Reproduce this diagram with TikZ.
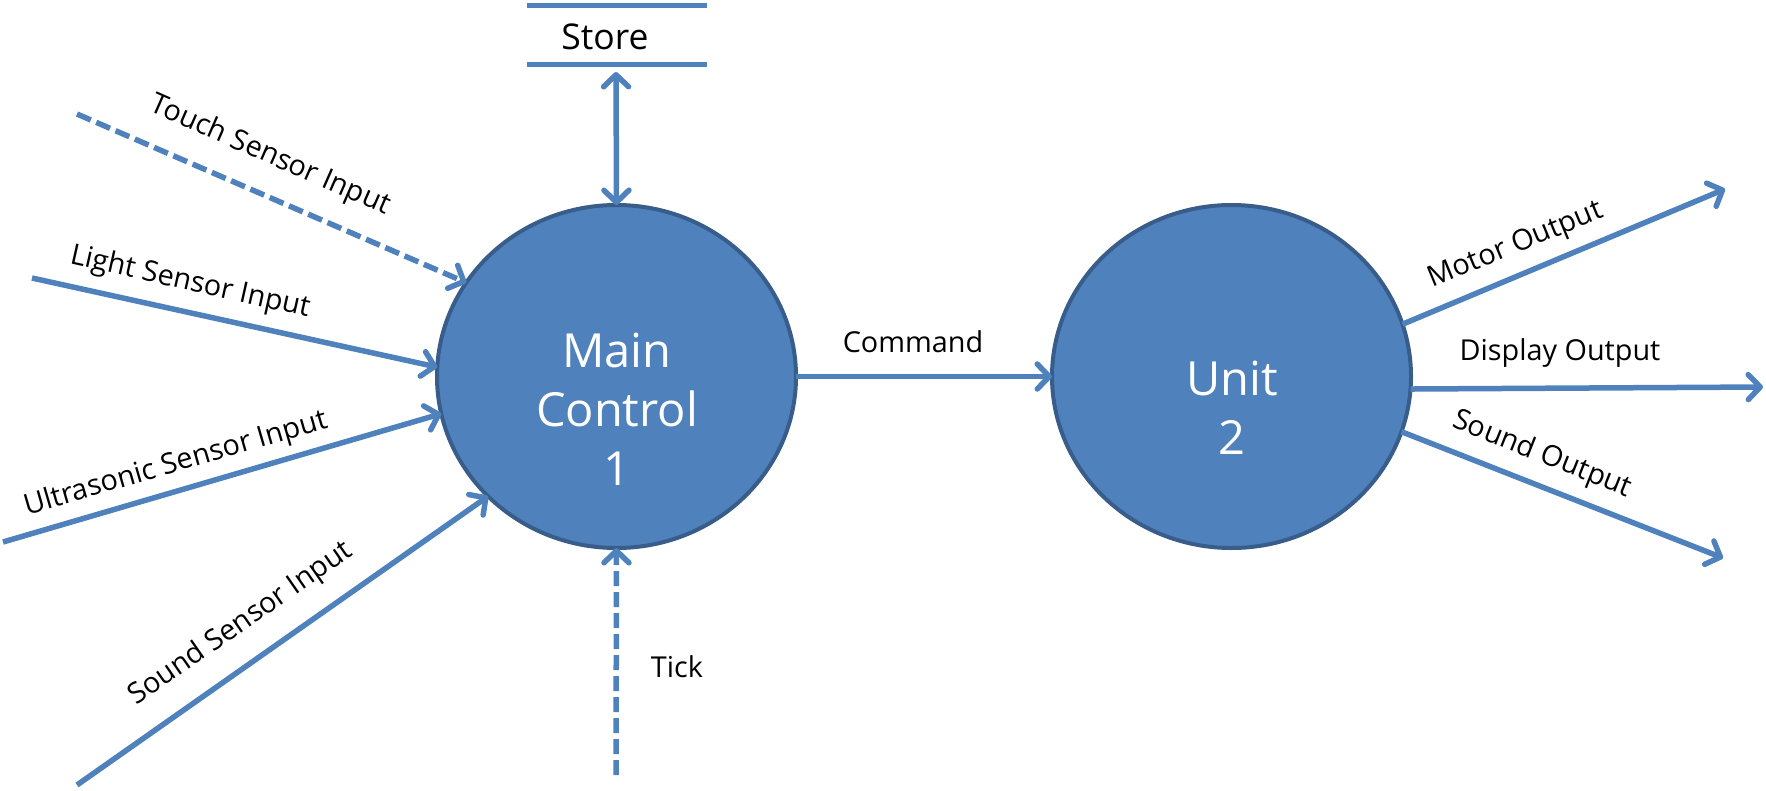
\documentclass[tikz,border=0pt]{standalone}
\usepackage{fontspec}
\setmainfont{Open Sans}
\usetikzlibrary{arrows.meta,shapes.geometric}
\definecolor{lineblue}{HTML}{4F81BD}
\definecolor{fillblue}{HTML}{4F81BD}
\definecolor{borderblue}{HTML}{385D8A}
\begin{document}
\begin{tikzpicture}[x=1pt,y=-1pt,
  proc/.style={ellipse, draw=borderblue, fill=fillblue, line width=4pt,
    minimum width=359pt, minimum height=343pt, inner sep=0pt, outer sep=0pt},
  barb/.tip={Straight Barb[length=12pt,width=25pt,round]},
  flow/.style={draw=lineblue, line width=5.5pt, -barb},
  dflow/.style={flow, dash pattern=on 15pt off 6pt},
  lbl/.style={font=\fontsize{28.8}{34}\selectfont, inner sep=0pt},
  ptext/.style={font=\fontsize{47}{59}\selectfont, text=white, align=center, inner sep=0pt},
  storeline/.style={draw=lineblue, line width=5pt}
]
\useasboundingbox (0,0) rectangle (1766,790);

% processes
\node[proc] (main) at (616.5,376.5) {};
\node[proc] (unit) at (1231.5,376.5) {};
\node[ptext] (maintext) at (617,409) {Main\\Control\\1};
\node[ptext] (unittext) at (1232,408) {Unit\\2};

% store
\node[font=\fontsize{35.5}{42}\selectfont, inner sep=0pt] (store) at (605,37) {Store};
\coordinate (stl) at (527,5);
\coordinate (str) at (707,5);
\coordinate (sbl) at (527,64);
\coordinate (sbr) at (707,64);
\draw[storeline] (stl) -- (str);
\draw[storeline] (sbl) -- (sbr);
\coordinate (storeport) at (616,72);
\draw[flow, barb-barb] (storeport) -- (main.north);

% free ends
\coordinate (touchS) at (77,114);
\coordinate (lightS) at (32,278);
\coordinate (ultraS) at (3,542);
\coordinate (soundS) at (77,785);
\coordinate (tickS) at (616,775);
\coordinate (motorE) at (1725,189);
\coordinate (dispE) at (1763,387);
\coordinate (soundE) at (1723,558);

% inputs
\draw[dflow] (touchS) -- (main.148.3);
\draw[flow] (lightS) -- (main.177.3);
\draw[flow] (ultraS) -- (main.192.3);
\draw[flow] (soundS) -- (main.223.4);
\draw[dflow] (tickS) -- (main.south);

% command
\draw[flow] (main.east) -- (unit.west);

% outputs
\draw[flow] (unit.17.6) -- (motorE);
\draw[flow] (unit.356.7) -- (dispE);
\draw[flow] (unit.342.6) -- (soundE);

% labels
\node[lbl, rotate=-23.7] (touchL) at (270,156) {Touch Sensor Input};
\node[lbl, rotate=-12.6] (lightL) at (190,283) {Light Sensor Input};
\node[lbl, rotate=16.2] (ultraL) at (176,464) {Ultrasonic Sensor Input};
\node[lbl, rotate=34.9] (soundL) at (241,624) {Sound Sensor Input};
\node[lbl] (tickL) at (677,667) {Tick};
\node[lbl] (cmdL) at (913,342) {Command};
\node[lbl, rotate=22.4] (motorL) at (1516,246) {Motor Output};
\node[lbl] (dispL) at (1560,353) {Display Output};
\node[lbl, rotate=-21.7] (soundOL) at (1542,455) {Sound Output};
\end{tikzpicture}
\end{document}
